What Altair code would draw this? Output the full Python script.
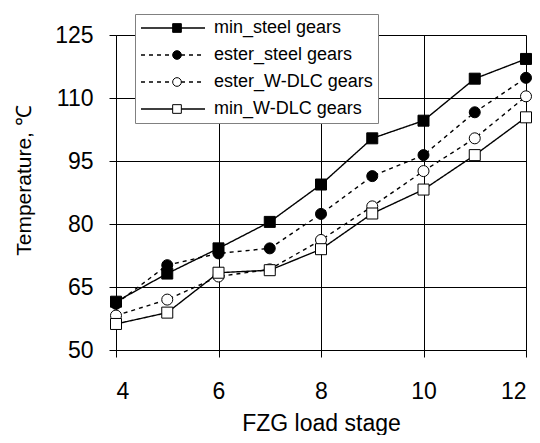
import altair as alt
import pandas as pd

stages = [4, 5, 6, 7, 8, 9, 10, 11, 12]
series_names = ["min_steel gears", "ester_steel gears", "ester_W-DLC gears", "min_W-DLC gears"]
marker_keys = ["m1", "m2", "m3", "m4"]
min_steel = [61.5, 68.2, 74.2, 80.5, 89.4, 100.4, 104.6, 114.6, 119.3]
ester_steel = [61.0, 70.2, 73.0, 74.2, 82.4, 91.4, 96.4, 106.6, 114.8]
ester_wdlc = [58.2, 62.0, 67.5, 69.2, 76.2, 84.2, 92.6, 100.4, 110.4]
min_wdlc = [56.2, 58.9, 68.4, 69.0, 74.0, 82.5, 88.2, 96.4, 105.4]
x_ticks = [4, 6, 8, 10, 12]
y_ticks = [50, 65, 80, 95, 110, 125]

rows = []
i = 0
for name, key, vals in zip(series_names, marker_keys, [min_steel, ester_steel, ester_wdlc, min_wdlc]):
    for s, v in zip(stages, vals):
        rows.append({"stage": s, "temp": v, "series": name, "series_m": key, "idx": i})
        i += 1
df = pd.DataFrame(rows)

FONT = "Liberation Sans"

x_enc = alt.X("stage:Q", scale=alt.Scale(domain=[4, 12], nice=False, zero=False),
              axis=alt.Axis(values=x_ticks, title="FZG load stage", format="d",
                            titleBaseline="alphabetic", titleY=80, titleFontSize=23))
y_enc = alt.Y("temp:Q", scale=alt.Scale(domain=[50, 125], nice=False, zero=False),
              axis=alt.Axis(values=y_ticks, title="Temperature, \u2103", titleAngle=-90,
                            titleBaseline="alphabetic", titleX=-86, titleY=145,
                            titleAlign="center", titleFontSize=21))

common_leg = dict(orient="none", legendX=19, legendY=-21, title=None, clipHeight=18,
                  rowPadding=9, padding=5, labelOffset=8, labelFontSize=18, labelFont=FONT,
                  labelLimit=400)

lines = alt.Chart(df).mark_line(color="black", strokeWidth=1.4).encode(
    x=x_enc, y=y_enc,
    strokeDash=alt.StrokeDash("series:N",
        scale=alt.Scale(domain=series_names, range=[[1, 0], [4, 4], [4, 4], [1, 0]]),
        legend=alt.Legend(symbolType="stroke", symbolSize=4096, symbolStrokeWidth=1.4,
                          symbolStrokeColor="black", labelColor="black",
                          fillColor="white", strokeColor="#808080", **common_leg)),
    detail="series:N",
)

marker_leg = alt.Legend(symbolSize=75, symbolOffset=28, symbolStrokeWidth=1,
                        labelExpr="''", zindex=1, **common_leg)

points = alt.Chart(df).mark_point(filled=True, strokeWidth=1, size=121, opacity=1).encode(
    x=x_enc, y=y_enc,
    shape=alt.Shape("series_m:N",
        scale=alt.Scale(domain=marker_keys, range=["square", "circle", "circle", "square"]),
        legend=marker_leg),
    fill=alt.Fill("series_m:N",
        scale=alt.Scale(domain=marker_keys, range=["black", "black", "white", "white"]),
        legend=marker_leg),
    stroke=alt.Stroke("series_m:N",
        scale=alt.Scale(domain=marker_keys, range=["black", "black", "black", "black"]),
        legend=marker_leg),
    order=alt.Order("idx:Q"),
)

chart = alt.layer(lines, points).properties(
    width=410, height=315,
    padding={"left": 108, "top": 27, "right": 6, "bottom": 85},
    autosize=alt.AutoSizeParams(type="none"),
).configure_view(stroke=None).configure_axis(
    domainColor="black", domainWidth=1, tickColor="black", tickSize=7, tickWidth=1,
    gridColor="black", gridWidth=1, gridOpacity=1,
    labelFont=FONT, labelFontSize=23, labelColor="black",
    titleFont=FONT, titleColor="black", titleFontWeight="normal",
).configure_axisX(labelPadding=23).configure_axisY(labelPadding=16)

chart.save("out.html", embed_options={"renderer": "svg", "actions": False})
